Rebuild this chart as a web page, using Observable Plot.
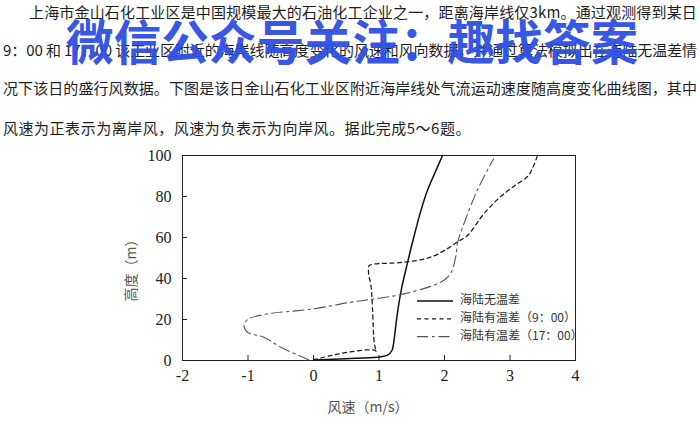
<!DOCTYPE html>
<html><head><meta charset="utf-8">
<script src="https://cdn.jsdelivr.net/npm/d3@7"></script>
<script src="https://cdn.jsdelivr.net/npm/@observablehq/plot@0.6"></script>
<style>
body{margin:0;background:#fff;}
#wrap{position:relative;width:700px;height:422px;overflow:hidden;font-family:"Noto Sans CJK SC",sans-serif;color:#1e1e1e;}
.ln{position:absolute;font-size:15px;line-height:20px;white-space:nowrap;}
#wm{position:absolute;left:66px;top:8px;font-size:47.5px;line-height:64px;font-weight:700;color:#2d4fe3;white-space:nowrap;opacity:0.95;letter-spacing:0.2px;}
#chart{position:absolute;left:0;top:140px;}
</style></head>
<body><div id="wrap"></div>
<script>
// ---- text ----
const paragraphLines = [
  "上海市金山石化工业区是中国规模最大的石油化工企业之一，距离海岸线仅3km。通过观测得到某日",
  "9：00 和 17：00 该工业区附近的海岸线随高度变化的风速和风向数据，并通过算法模拟出在海陆无温差情",
  "况下该日的盛行风数据。下图是该日金山石化工业区附近海岸线处气流运动速度随高度变化曲线图，其中",
  "风速为正表示为离岸风，风速为负表示为向岸风。据此完成5～6题。"
];
const watermark = "微信公众号关注：趣找答案";

// ---- chart data ----
const seriesNames = ["海陆无温差", "海陆有温差（9：00）", "海陆有温差（17：00）"];
const xTicks = [-2, -1, 0, 1, 2, 3, 4];
const yTicks = [0, 20, 40, 60, 80, 100];
const xLabel = "风速（m/s）";
const yLabel = "高度（m）";

// 海陆无温差
const speedNone = [0.02, 0.5, 0.97, 1.13, 1.2, 1.23, 1.26, 1.3, 1.35, 1.43, 1.53, 1.63, 1.74, 1.86, 1.97];
const heightNone = [0.3, 0.9, 1.6, 2.6, 5.0, 10, 18, 27, 36, 47, 60, 72, 83, 92, 100];
// 海陆有温差（9:00）
const speed9 = [0.0, 0.26, 0.52, 0.82, 0.94, 0.96, 0.93, 0.9, 0.88, 0.84, 0.85, 0.92, 1.4, 1.79, 2.04, 2.19, 2.35, 2.6, 2.85, 3.08, 3.26, 3.34, 3.42];
const height9 = [0.3, 2.4, 4.0, 5.2, 5.0, 4.3, 8, 26, 36, 43, 46.3, 47, 48, 50.4, 54.5, 57.7, 61, 71.5, 79.7, 85.5, 89.5, 93.5, 100];
// 海陆有温差（17:00）
const speed17 = [-0.07, -0.5, -0.76, -1.01, -1.06, -1.01, -0.76, 0.0, 0.56, 0.92, 1.38, 1.94, 2.09, 2.17, 2.2, 2.3, 2.5, 2.75];
const height17 = [0.3, 6.5, 11.4, 13.8, 17, 19.9, 22.4, 25.2, 28.4, 30, 32.5, 38.2, 42.3, 50.4, 57.5, 67, 83, 98.4];

// ---- styles ----
const styles = [
  {stroke: "#111", strokeWidth: 1.5, dash: null},
  {stroke: "#1a1a1a", strokeWidth: 1.25, dash: "4,3.5"},
  {stroke: "#555", strokeWidth: 1.1, dash: "11,4,2.5,4"}
];

const toRows = (xs, ys, name) => xs.map((v, i) => ({speed: v, height: ys[i], name}));
const series = [
  toRows(speedNone, heightNone, seriesNames[0]),
  toRows(speed9, height9, seriesNames[1]),
  toRows(speed17, height17, seriesNames[2])
];

const wrap = d3.select("#wrap");

// paragraph
const lineTops = [2, 40, 78, 118];
const lineLefts = [29, 3, 3, 3];
const lineRights = [697, 697, 697, 471];
paragraphLines.forEach((t, i) => {
  const el = wrap.append("div").attr("class", "ln")
    .style("left", lineLefts[i] + "px").style("top", lineTops[i] + "px").text(t).node();
  const w = el.getBoundingClientRect().width;
  const n = [...t].length;
  const target = lineRights[i] - lineLefts[i];
  el.style.letterSpacing = ((target - w) / n) + "px";
});

// chart
const marks = [
  Plot.frame({stroke: "#222", strokeWidth: 1}),
  Plot.axisX(xTicks, {anchor: "bottom", tickSize: -5, tickPadding: 14, tickFormat: d => `${d}`, fontSize: 16, fill: "#222", stroke: "#222", label: null}),
  Plot.axisY(yTicks, {anchor: "left", tickSize: -5, tickPadding: 16, tickFormat: d => `${d}`, fontSize: 16, fill: "#222", stroke: "#222", label: null}),
  ...series.map((rows, i) => Plot.line(rows, {
    x: "speed", y: "height", curve: "catmull-rom",
    stroke: styles[i].stroke, strokeWidth: styles[i].strokeWidth,
    strokeDasharray: styles[i].dash
  }))
];

const chart = Plot.plot({
  width: 700, height: 282,
  marginLeft: 182, marginRight: 125, marginTop: 15, marginBottom: 62,
  x: {domain: [-2, 4], label: null},
  y: {domain: [0, 100], label: null},
  style: {fontFamily: "'Liberation Serif', serif", background: "transparent", color: "#222"},
  marks
});
chart.id = "chart";
wrap.node().appendChild(chart);

const svg = d3.select(chart);
// axis titles
svg.append("text").attr("x", 368).attr("y", 268).attr("text-anchor", "middle")
  .attr("dominant-baseline", "middle")
  .style("font-family", "'Noto Sans CJK SC', sans-serif").style("font-size", "14px").attr("fill", "#555")
  .text(xLabel);
svg.append("text").attr("transform", "translate(132,127) rotate(-90)").attr("text-anchor", "middle")
  .attr("dominant-baseline", "middle")
  .style("font-family", "'Noto Sans CJK SC', sans-serif").style("font-size", "14px").attr("fill", "#555")
  .text(yLabel);

// legend
const lg = svg.append("g").attr("text-anchor", "start");
seriesNames.forEach((name, i) => {
  const y = 161 + i * 17.8;
  lg.append("line").attr("x1", 417).attr("x2", 453).attr("y1", y).attr("y2", y)
    .attr("stroke", styles[i].stroke).attr("stroke-width", styles[i].strokeWidth)
    .attr("stroke-dasharray", styles[i].dash);
  lg.append("text").attr("x", 460).attr("y", y).attr("dominant-baseline", "middle")
    .attr("text-anchor", "start")
    .style("font-family", "'Noto Sans CJK SC', sans-serif").style("font-size", "12px").attr("fill", "#333")
    .text(name);
});

// watermark
wrap.append("div").attr("id", "wm").text(watermark);
</script>
</body></html>
